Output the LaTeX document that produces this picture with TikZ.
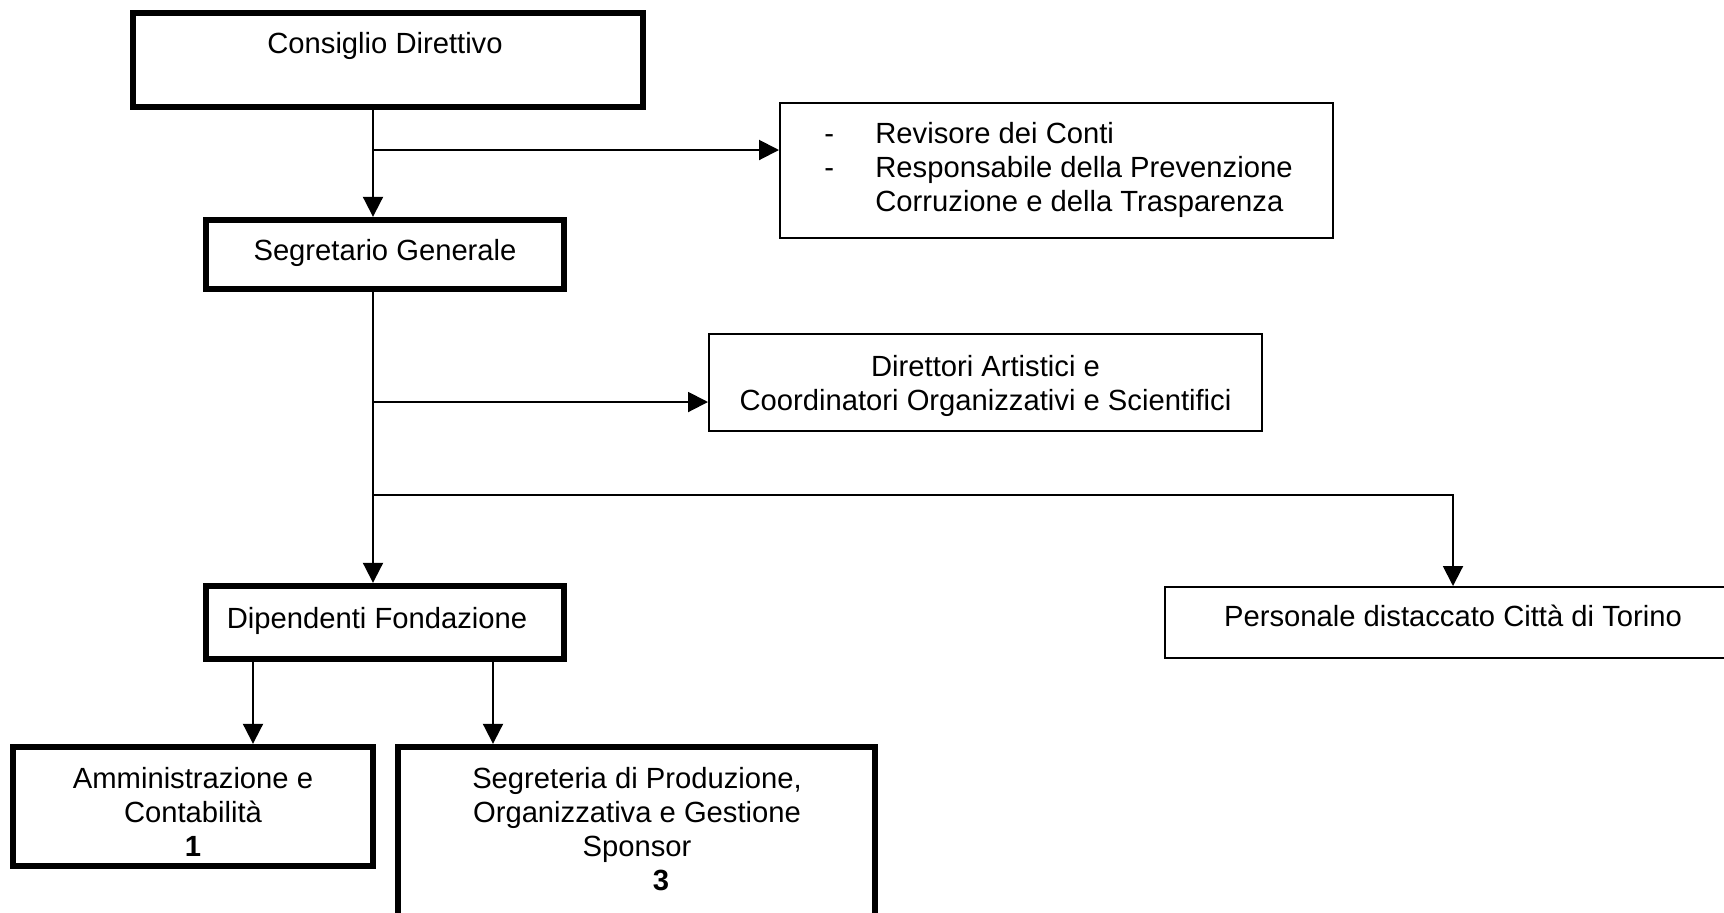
\documentclass[tikz,border=0pt]{standalone}
\usepackage{fontspec}
\setmainfont{Liberation Sans}
\usetikzlibrary{arrows.meta}
\begin{document}
\begin{tikzpicture}[x=0.5pt,y=-0.5pt,
  thickbox/.style={draw=black,line width=3.2pt,rectangle,inner sep=0pt,fill=none},
  thinbox/.style={draw=black,line width=1pt,rectangle,inner sep=0pt,fill=none},
  txt/.style={font=\fontsize{14.6}{17}\selectfont,align=center,inner sep=0pt},
  conn/.style={draw=black,line width=1pt},
  arr/.style={conn,-{Triangle[length=10pt,width=10pt]}}]
\fill[white] (0,0) rectangle (1724,912);
\useasboundingbox (0,0) rectangle (1724,912);
% boxes
\node[thickbox,minimum width=255pt,minimum height=47pt] (cd) at (388,60) {};
\node[thickbox,minimum width=179pt,minimum height=34.5pt] (sg) at (385,254.5) {};
\node[thinbox,minimum width=276.5pt,minimum height=67.5pt] (rev) at (1056.5,170.5) {};
\node[thinbox,minimum width=276.5pt,minimum height=48.5pt] (dir) at (985.5,382.5) {};
\node[thickbox,minimum width=179pt,minimum height=36.5pt] (dip) at (385,622.5) {};
\node[thinbox,minimum width=288pt,minimum height=35.5pt] (pers) at (1453,622.5) {};
\node[thickbox,minimum width=180pt,minimum height=59.5pt] (amm) at (193,806.5) {};
\node[thickbox,minimum width=238.5pt,minimum height=94pt] (segr) at (636.5,841) {};
% texts
\node[txt] (cdT) at (385,46) {Consiglio Direttivo};
\node[txt] (sgT) at (385,253) {Segretario Generale};
\node[txt,align=left,anchor=west] (revT) at (824,170) {\makebox[25.5pt][l]{-}Revisore dei Conti\\\makebox[25.5pt][l]{-}Responsabile della Prevenzione\\\hspace*{25.5pt}Corruzione e della Trasparenza};
\node[txt] (dirT) at (985.5,386) {Direttori Artistici e\\Coordinatori Organizzativi e Scientifici};
\node[txt] (dipT) at (377,621) {Dipendenti Fondazione};
\node[txt] (persT) at (1453,616) {Personale distaccato Città di Torino};
\node[txt] (ammT) at (193,812) {Amministrazione e\\Contabilità\\\textbf{1}};
\node[txt] (segrT) at (637,829) {Segreteria di Produzione,\\Organizzativa e Gestione\\Sponsor\\\hspace*{24pt}\textbf{3}};
% junctions
\coordinate (j1) at (373,150);
\coordinate (j2) at (373,402);
\coordinate (j3) at (373,495);
\coordinate (ja) at (253,700);
\coordinate (jb) at (493,700);
% connectors
\draw[conn] (cd.south -| j1) -- (j1);
\draw[arr] (j1) -- (sg.north -| j1);
\draw[arr] (j1) -- (j1 -| rev.west);
\draw[conn] (sg.south -| j2) -- (j2) -- (j3);
\draw[arr] (j2) -- (j2 -| dir.west);
\draw[arr] (j3) -- (dip.north -| j3);
\draw[arr] (j3) -| (pers.north);
\draw[arr] (dip.south -| ja) -- (amm.north -| ja);
\draw[arr] (dip.south -| jb) -- (segr.north -| jb);
\end{tikzpicture}
\end{document}
